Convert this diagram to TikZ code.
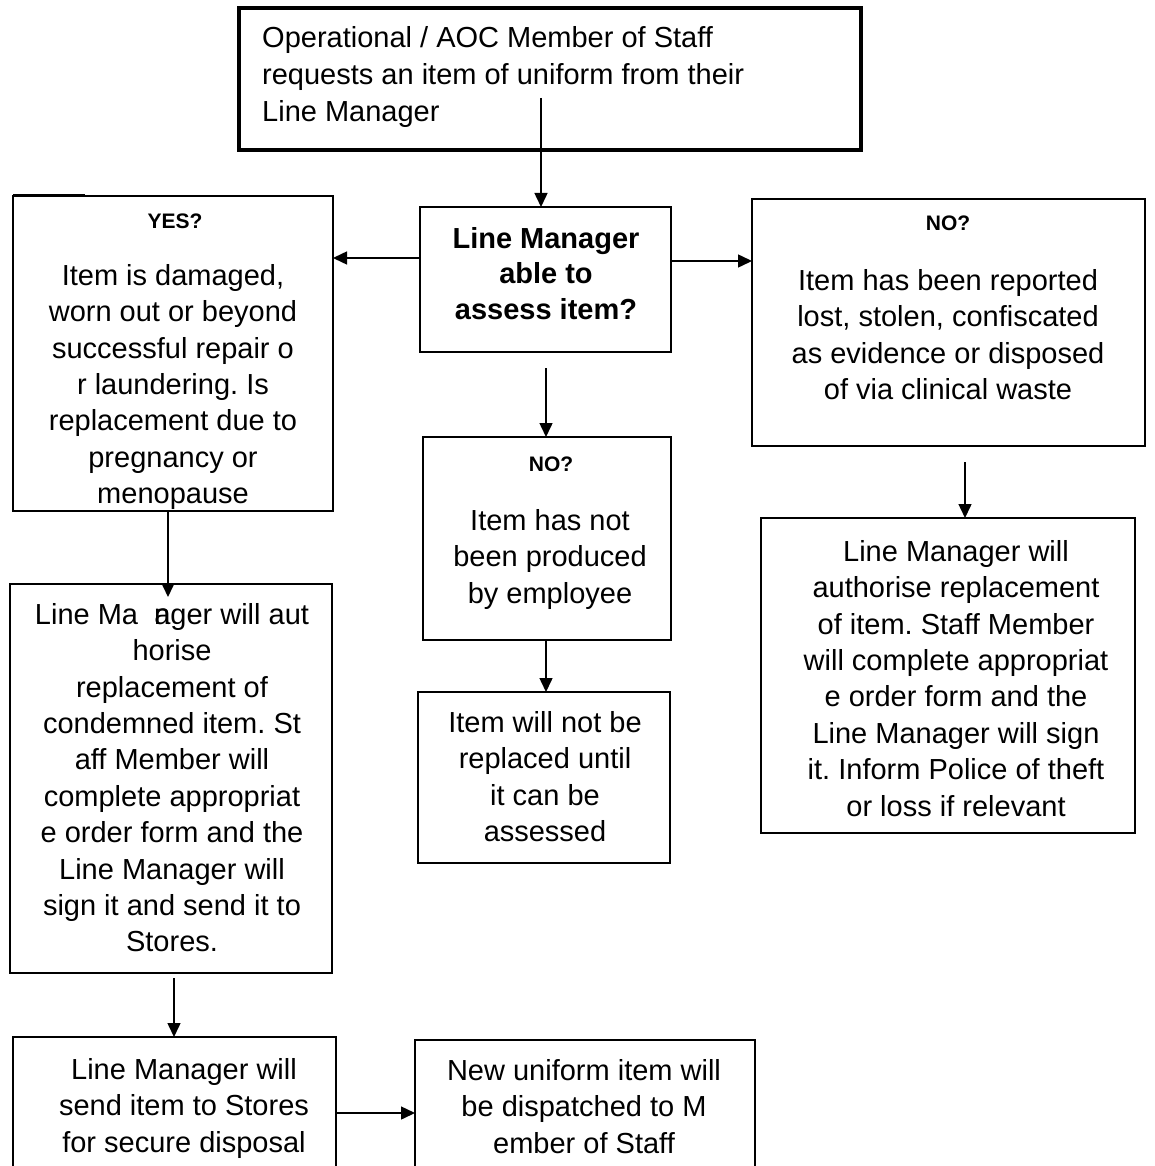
\documentclass[tikz,border=0pt]{standalone}
\usepackage{fontspec}
\setmainfont{Liberation Sans}
\usetikzlibrary{arrows.meta,calc}
\newcommand\fstrut{\rule{0pt}{26pt}}
\frenchspacing
\begin{document}
\frenchspacing
\begin{tikzpicture}[x=1pt,y=-1pt,
  box/.style={draw, line width=1.5pt, inner sep=0, outer sep=0, anchor=north west},
  txt/.style={inner sep=0, align=center, anchor=north, font=\fontsize{29}{36.4}\selectfont},
  hd/.style={inner sep=0, anchor=base, font=\fontsize{21}{24}\selectfont\bfseries},
  arr/.style={line width=1.5pt, -{Triangle[length=14pt,width=13pt]}}]
\path[use as bounding box] (0,0) rectangle (1155,1166);
\clip (0,0) rectangle (1155,1166);
\fill[white] (0,0) rectangle (1155,1166);

% boxes
\node[box, line width=3.5pt, minimum width=622pt, minimum height=142pt] (top) at (239,8) {};
\node[box, minimum width=251pt, minimum height=145pt] (lm) at (420,207) {};
\node[box, minimum width=320pt, minimum height=315pt] (yes) at (13,196) {};
\node[box, minimum width=393pt, minimum height=247pt] (no1) at (752,199) {};
\node[box, minimum width=248pt, minimum height=203pt] (no2) at (423,437) {};
\node[box, minimum width=252pt, minimum height=171pt] (nr) at (418,692) {};
\node[box, minimum width=322pt, minimum height=389pt] (la) at (10,584) {};
\node[box, minimum width=374pt, minimum height=315pt] (ra) at (761,518) {};
\node[box, minimum width=323pt, minimum height=140pt] (bl) at (13,1037) {};
\node[box, minimum width=340pt, minimum height=140pt] (br) at (415,1040) {};

\draw[line width=2.5pt] ([yshift=0.75pt]yes.north west) -- ++(72,0);

% texts
\node[txt, align=left, anchor=north west, font=\fontsize{29}{37}\selectfont] (topt) at (262,21)
  {\fstrut Operational / AOC Member of Staff\\requests an item of uniform from their\\Line Manager};
\node[txt, font=\fontsize{29}{35.5}\selectfont\bfseries] (lmt) at (546,222)
  {\fstrut Line Manager\\able to\\assess item?};
\node[hd] (yesh) at (175,229) {YES?};
\node[txt] (yest) at (173,259)
  {\fstrut Item is damaged,\\worn out or beyond\\successful repair o\\r laundering. Is\\replacement due to\\pregnancy or\\menopause};
\node[hd] (no1h) at (948,231) {NO?};
\node[txt] (no1t) at (948,264)
  {\fstrut Item has been reported\\lost, stolen, confiscated\\as evidence or disposed\\of via clinical waste};
\node[hd] (no2h) at (551,471) {NO?};
\node[txt] (no2t) at (550,504)
  {\fstrut Item has not\\been produced\\by employee};
\node[txt] (nrt) at (545,706)
  {\fstrut Item will not be\\replaced until\\it can be\\assessed};
\node[txt] (lat) at (172,598)
  {\fstrut Line Ma\hphantom{n}\rlap{n}ager will aut\\horise\\replacement of\\condemned item. St\\aff Member will\\complete appropriat\\e order form and the\\Line Manager will\\sign it and send it to\\Stores.};
\node[txt] (rat) at (956,535)
  {\fstrut Line Manager will\\authorise replacement\\of item. Staff Member\\will complete appropriat\\e order form and the\\Line Manager will sign\\it. Inform Police of theft\\or loss if relevant};
\node[txt] (blt) at (184,1053)
  {\fstrut Line Manager will\\send item to Stores\\for secure disposal};
\node[txt] (brt) at (584,1054)
  {\fstrut New uniform item will\\be dispatched to M\\ember of Staff};

% connectors
\coordinate (s0) at (541,98);
\draw[arr] (s0) -- (s0 |- lm.north);
\coordinate (ly) at (0,258);
\draw[arr] (lm.west |- ly) -- (yes.east |- ly);
\coordinate (ry) at (0,261);
\draw[arr] (lm.east |- ry) -- (no1.west |- ry);
\coordinate (s1) at (546,368);
\draw[arr] (s1) -- (s1 |- no2.north);
\coordinate (xm) at (546,0);
\draw[arr] (no2.south -| xm) -- (nr.north -| xm);
\coordinate (t1) at (168,597);
\draw[arr] (yes.south -| t1) -- (t1);
\coordinate (s2) at (174,978);
\draw[arr] (s2) -- (s2 |- bl.north);
\coordinate (hy) at (0,1113);
\draw[arr] (bl.east |- hy) -- (br.west |- hy);
\coordinate (s3) at (965,462);
\draw[arr] (s3) -- (s3 |- ra.north);
\end{tikzpicture}
\end{document}
